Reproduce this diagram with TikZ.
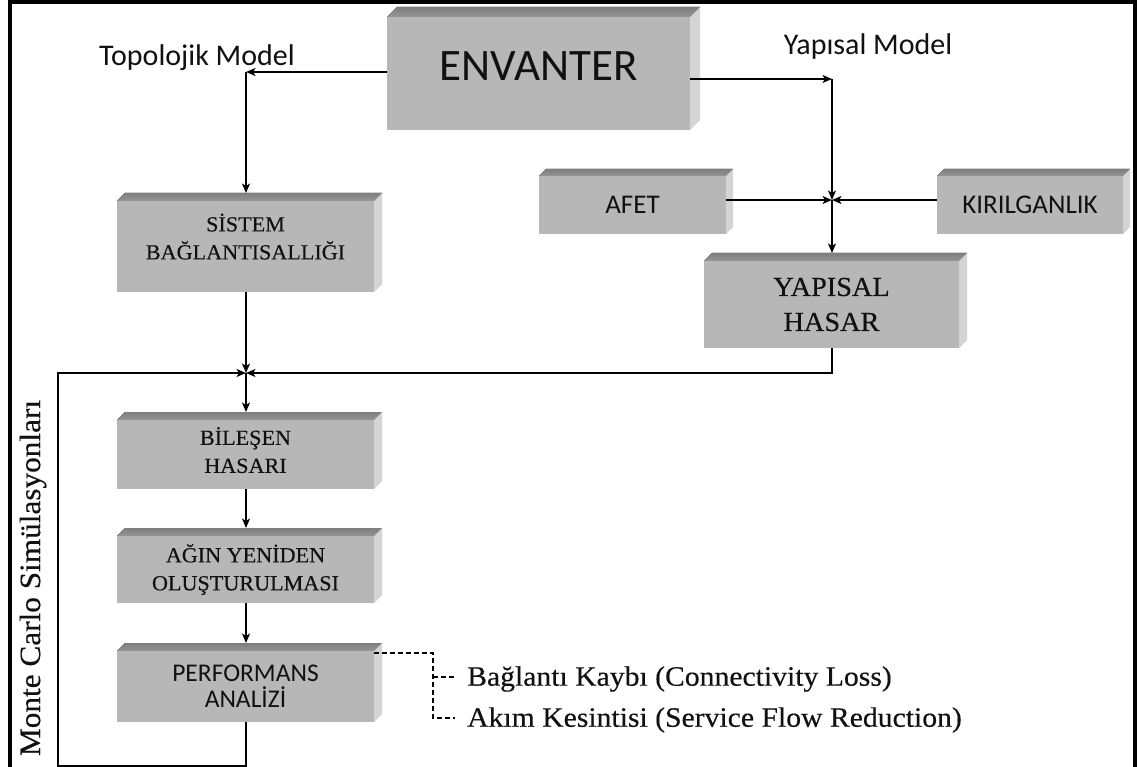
\documentclass[tikz,border=0pt]{standalone}
\usepackage{fontspec}
\setmainfont{Liberation Serif}
\newfontfamily\srf[FakeStretch=1.03,FakeBold=0.35]{Liberation Serif}
\newfontfamily\srfw[FakeStretch=1.06,FakeBold=0.35]{Liberation Serif}
\newfontfamily\sns{Carlito}
\usetikzlibrary{arrows.meta,calc}

\definecolor{boxfront}{HTML}{B7B7B7}
\definecolor{boxtop}{HTML}{959595}
\definecolor{boxtopdark}{HTML}{7E7E7E}
\definecolor{boxside}{HTML}{D4D4D4}
\definecolor{ink}{HTML}{111111}

\tikzset{
  conn/.style={line width=1.4pt, draw=black},
  arr/.style={conn, -{Stealth[length=9.5pt,width=8pt,inset=2.5pt]}},
  dashconn/.style={line width=1.1pt, dash pattern=on 5pt off 3pt},
  frontface/.style={fill=boxfront, draw=none, inner sep=0pt, align=center, text=ink},
  serifsmall/.style={font=\srf\fontsize{21.5}{28}\selectfont},
  seriflarge/.style={font=\srf\fontsize{27.5}{35}\selectfont},
  sanssmall/.style={font=\sns\fontsize{25.5}{26}\selectfont},
  sansmid/.style={font=\sns\fontsize{27}{30}\selectfont},
  labeltext/.style={font=\sns\fontsize{30}{32}\selectfont, text=ink},
  notetext/.style={font=\srfw\fontsize{28}{30}\selectfont, text=ink, anchor=west, inner sep=0pt},
}

% cube-like box: name, left, top, right (with side face), bottom, depth, [node style], text
\newcommand{\cubebox}[8]{%
  \fill[top color=boxtopdark, bottom color=boxtop]
    ({#2},{#3+#6}) -- ({#2+#6},{#3}) -- ({#4},{#3}) -- ({#4-#6},{#3+#6}) -- cycle;
  \fill[boxside]
    ({#4-#6},{#3+#6}) -- ({#4},{#3}) -- ({#4},{#5-#6}) -- ({#4-#6},{#5}) -- cycle;
  \node[frontface, #7, minimum width={(#4-#6-#2)*1pt}, minimum height={(#5-#3-#6)*1pt}]
    (#1) at ({(#2+#4-#6)/2},{(#3+#6+#5)/2}) {#8};
  \coordinate (#1-top) at ({(#2+#4-#6)/2},{#3});
}

\begin{document}
\begin{tikzpicture}[x=1pt, y=-1pt]
\useasboundingbox (0,0) rectangle (1138,767);
\clip (0,0) rectangle (1138,767);
\fill[white] (0,0) rectangle (1138,767);

% outer frame (open at the bottom)
\draw[line width=4pt] (9.5,790) -- (9.5,2.5) -- (1134.5,2.5) -- (1134.5,790);

% boxes
\cubebox{env}{387}{7}{700}{130}{10}{font=\sns\fontsize{45}{50}\selectfont, text depth=14pt}{ENVANTER}
\cubebox{sis}{117}{193}{382}{292}{8}{serifsmall, text depth=20pt}{SİSTEM\\BAĞLANTISALLIĞI}
\cubebox{afet}{539}{169}{733}{234}{7}{sansmid}{AFET}
\cubebox{kir}{937}{169}{1130}{234}{7}{sansmid}{KIRILGANLIK}
\cubebox{yap}{704}{253}{967}{348}{8}{seriflarge}{YAPISAL\\HASAR}
\cubebox{bil}{117}{412}{382}{489}{8}{serifsmall, text depth=9pt}{BİLEŞEN\\HASARI}
\cubebox{agn}{117}{528}{382}{603}{8}{serifsmall}{AĞIN YENİDEN\\OLUŞTURULMASI}
\cubebox{perf}{117}{643}{382}{722}{8}{sanssmall}{PERFORMANS\\ANALİZİ}

% labels
\node[labeltext] (topo) at (197,58) {Topolojik Model};
\node[labeltext] (yapm) at (868,47) {Yapısal Model};
\node[font=\srfw\fontsize{29.5}{32}\selectfont, text=ink, rotate=90] (mc) at (33,578) {Monte Carlo Simülasyonları};

% junction and bend points
\coordinate (tc) at (246,72);
\coordinate (yc) at (832,79);
\coordinate (jA) at (832,200);
\coordinate (jB) at (246,373);
\coordinate (yr) at (832,373);
\coordinate (lb1) at (246,766);
\coordinate (lb2) at (58,766);
\coordinate (lt) at (58,373);

% connectors
\draw[arr] (env.west |- tc) -- (tc);
\draw[arr] (tc) -- (tc |- sis-top);
\draw[arr] (env.east |- yc) -- (yc);
\draw[arr] (yc) -- (jA);
\draw[arr] (afet.east |- jA) -- (jA);
\draw[arr] (kir.west |- jA) -- (jA);
\draw[arr] (jA) -- (jA |- yap-top);
\draw[arr] (sis.south -| jB) -- (jB);
\draw[arr] (yap.south -| yr) -- (yr) -- (jB);
\draw[arr] (perf.south -| lb1) -- (lb1) -- (lb2) -- (lt) -- (jB);
\draw[arr] (jB) -- (jB |- bil-top);
\draw[arr] (bil.south -| jB) -- (jB |- agn-top);
\draw[arr] (agn.south -| jB) -- (jB |- perf-top);

% performance measures
\coordinate (dA) at (433,653);
\coordinate (dB) at (433,677);
\coordinate (dC) at (433,718);
\coordinate (eB) at (455,677);
\coordinate (eC) at (455,718);
\draw[dashconn] (perf.east |- dA) -- (dA) -- (dC) -- (eC);
\draw[dashconn] (dB) -- (eB);
\node[notetext] (loss) at (467,679) {Bağlantı Kaybı (Connectivity Loss)};
\node[notetext] (flow) at (467,720) {Akım Kesintisi (Service Flow Reduction)};
\end{tikzpicture}
\end{document}
